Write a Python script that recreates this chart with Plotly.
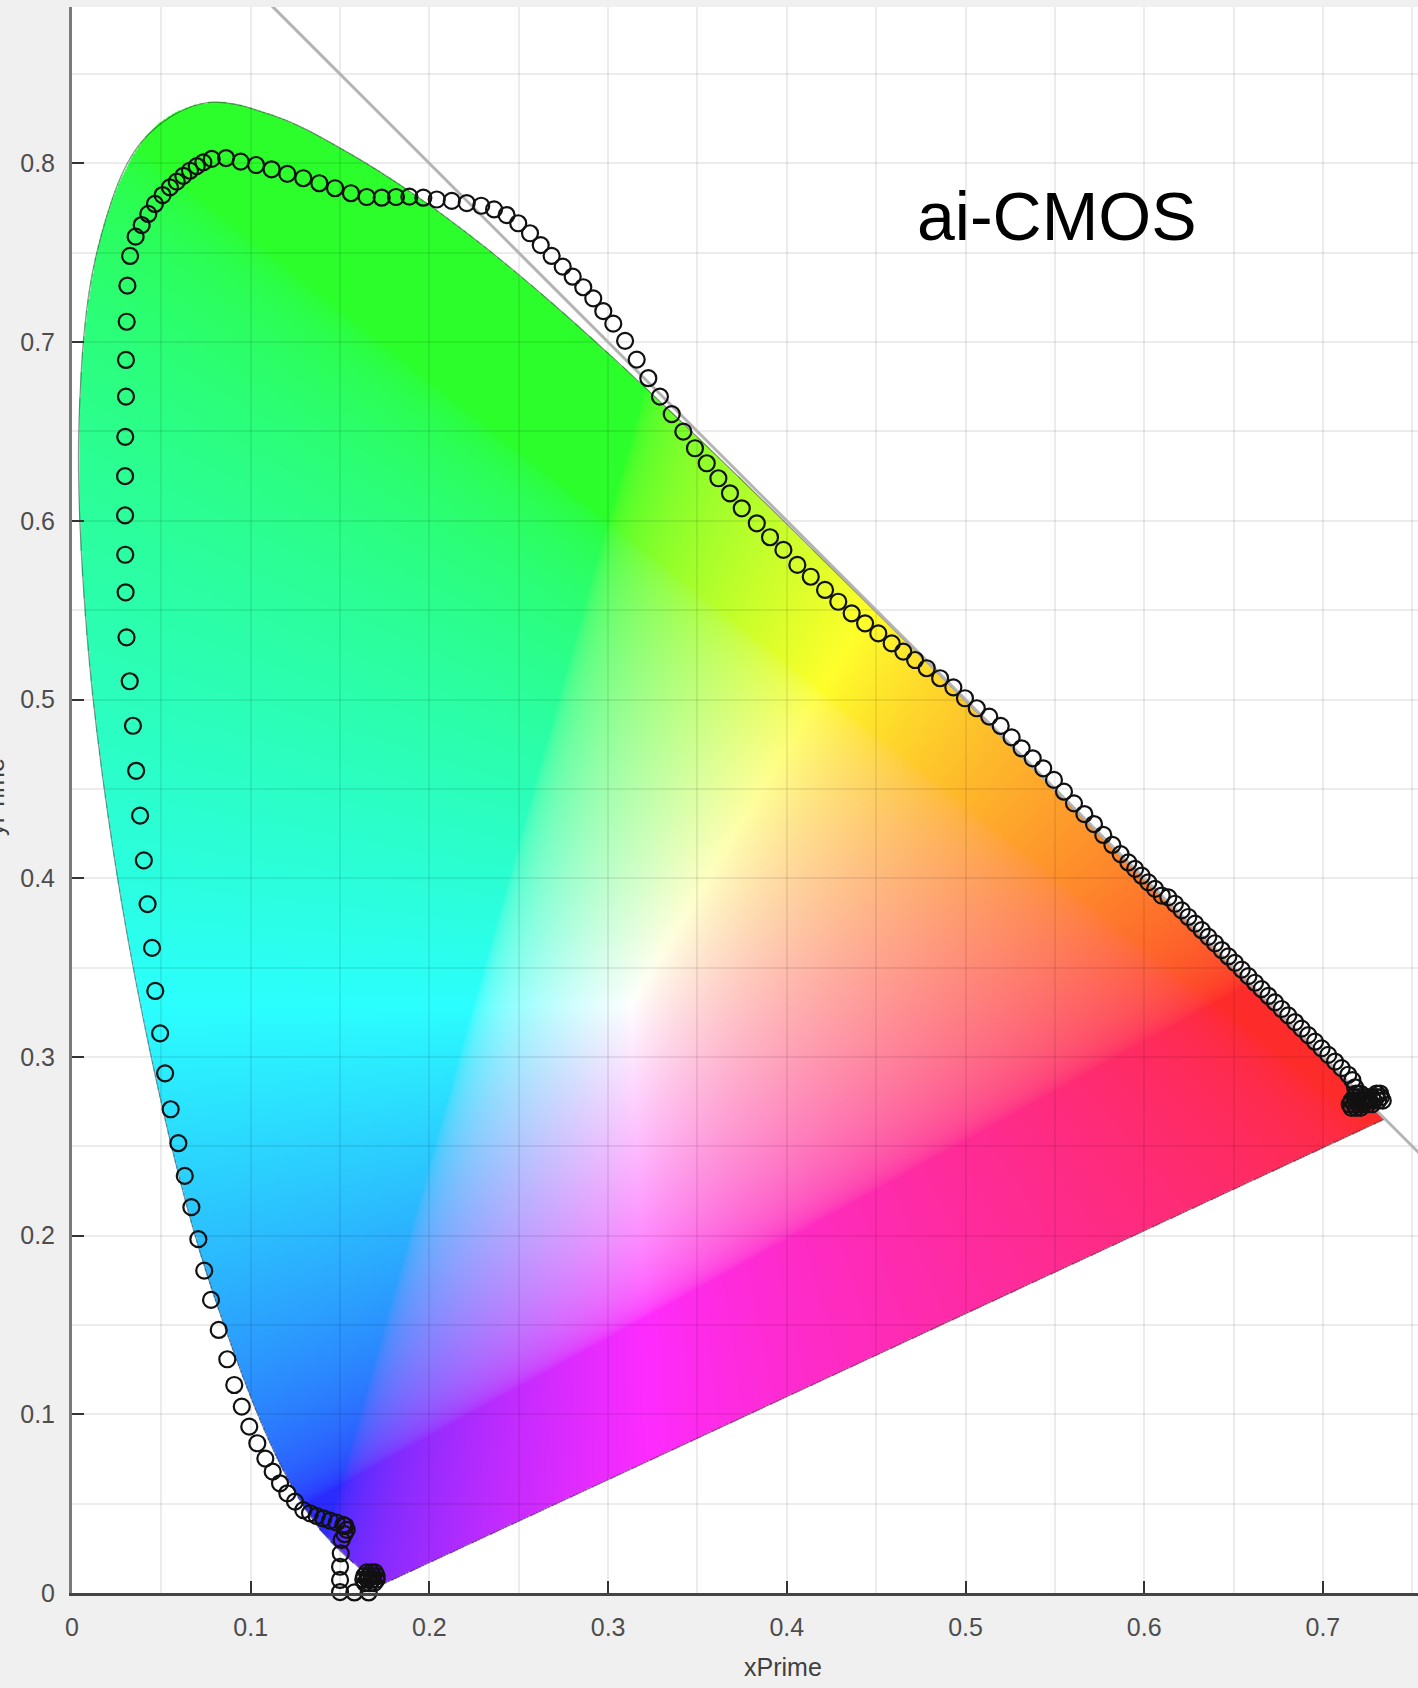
import base64
import struct
import zlib

import numpy as np
import plotly.graph_objects as go

# ---------------- data ----------------
# CIE 1931 2-degree spectral locus (chromaticity x, y), 380-700 nm
locus_nm = [380, 385, 390, 395, 400, 405, 410, 415, 420, 425, 430, 435, 440, 445, 450,
            455, 460, 465, 470, 475, 480, 485, 490, 495, 500, 505, 510, 515, 520, 525,
            530, 535, 540, 545, 550, 555, 560, 565, 570, 575, 580, 585, 590, 595, 600,
            605, 610, 615, 620, 625, 630, 635, 640, 645, 650, 660, 670, 680, 700]
locus_x = [0.1741, 0.1740, 0.1738, 0.1736, 0.1733, 0.1730, 0.1726, 0.1721, 0.1714, 0.1703,
           0.1689, 0.1669, 0.1644, 0.1611, 0.1566, 0.1510, 0.1440, 0.1355, 0.1241, 0.1096,
           0.0913, 0.0687, 0.0454, 0.0235, 0.0082, 0.0039, 0.0139, 0.0389, 0.0743, 0.1142,
           0.1547, 0.1929, 0.2296, 0.2658, 0.3016, 0.3373, 0.3731, 0.4087, 0.4441, 0.4788,
           0.5125, 0.5448, 0.5752, 0.6029, 0.6270, 0.6482, 0.6658, 0.6801, 0.6915, 0.7006,
           0.7079, 0.7140, 0.7190, 0.7230, 0.7260, 0.7300, 0.7327, 0.7334, 0.7347]
locus_y = [0.0050, 0.0050, 0.0049, 0.0049, 0.0048, 0.0048, 0.0048, 0.0048, 0.0051, 0.0058,
           0.0069, 0.0086, 0.0109, 0.0138, 0.0177, 0.0227, 0.0297, 0.0399, 0.0578, 0.0868,
           0.1327, 0.2007, 0.2950, 0.4127, 0.5384, 0.6548, 0.7502, 0.8120, 0.8338, 0.8262,
           0.8059, 0.7816, 0.7543, 0.7243, 0.6923, 0.6589, 0.6245, 0.5896, 0.5547, 0.5202,
           0.4866, 0.4544, 0.4242, 0.3965, 0.3725, 0.3514, 0.3340, 0.3197, 0.3083, 0.2993,
           0.2920, 0.2859, 0.2809, 0.2770, 0.2740, 0.2700, 0.2673, 0.2666, 0.2653]

sensor_x = [
    # blue end cluster
    0.1640, 0.1665, 0.1690,
    0.1630, 0.1655, 0.1680, 0.1705,
    0.1635, 0.1660, 0.1685, 0.1705,
    0.1650, 0.1675, 0.1695,
    0.1580, 0.1660, 0.1500,
    # column and corner
    0.1500, 0.1500, 0.1504, 0.1509, 0.1525, 0.1537, 0.1530,
    # up the left side
    0.1518, 0.1481, 0.1444, 0.1406, 0.1369, 0.1332, 0.1294, 0.1248, 0.1205, 0.1164,
    0.1123, 0.1082, 0.1037, 0.0992, 0.0950, 0.0908, 0.0869, 0.0821, 0.0778, 0.0740,
    0.0707, 0.0668, 0.0631, 0.0595, 0.0552, 0.0521, 0.0493, 0.0466, 0.0448, 0.0423,
    0.0402, 0.0381, 0.0359, 0.0341, 0.0323, 0.0305, 0.0300, 0.0298, 0.0297, 0.0297,
    0.0298, 0.0302, 0.0302, 0.0306, 0.0310, 0.0325,
    # top arc
    0.0356, 0.0390, 0.0427, 0.0464, 0.0507, 0.0548, 0.0586, 0.0623, 0.0660, 0.0698,
    0.0735, 0.0782, 0.0862, 0.0944, 0.1030, 0.1117, 0.1205, 0.1294, 0.1384, 0.1472,
    0.1561, 0.1649, 0.1733, 0.1813, 0.1888, 0.1966, 0.2041, 0.2125, 0.2209, 0.2290,
    # descending along x + y = 1
    0.2362, 0.2432, 0.2497, 0.2563, 0.2623, 0.2684, 0.2746, 0.2802, 0.2861, 0.2917,
    0.2973, 0.3029, 0.3095, 0.3160, 0.3225, 0.3290, 0.3356, 0.3421, 0.3486, 0.3552,
    0.3617, 0.3682, 0.3748, 0.3832, 0.3906, 0.3981, 0.4059, 0.4134, 0.4214, 0.4288,
    0.4363, 0.4438, 0.4512, 0.4587, 0.4652, 0.4718, 0.4783, 0.4858, 0.4932, 0.4997,
    0.5063, 0.5133, 0.5197, 0.5258, 0.5314, 0.5376, 0.5435, 0.5495, 0.5551, 0.5607,
    0.5665, 0.5719, 0.5771, 0.5822, 0.5868, 0.5911, 0.5949, 0.5986, 0.6023, 0.6061,
    0.6098, 0.6135, 0.6172, 0.6210, 0.6247, 0.6285, 0.6322, 0.6359, 0.6396, 0.6434,
    0.6471, 0.6508, 0.6546, 0.6583, 0.6620, 0.6657, 0.6695, 0.6732, 0.6769, 0.6806,
    0.6844, 0.6881, 0.6918, 0.6956, 0.6993, 0.7030, 0.7068, 0.7105, 0.7142, 0.7165,
    0.7180,
    # red end cluster
    0.7160, 0.7185, 0.7210,
    0.7150, 0.7175, 0.7200, 0.7225, 0.7250, 0.7275,
    0.7160, 0.7185, 0.7210, 0.7235, 0.7260, 0.7285, 0.7310, 0.7335,
    0.7175, 0.7200, 0.7225, 0.7250, 0.7275, 0.7300, 0.7325,
    0.7185, 0.7210, 0.7300, 0.7320,
]
sensor_y = [
    0.0055, 0.0055, 0.0055,
    0.0075, 0.0075, 0.0075, 0.0075,
    0.0095, 0.0095, 0.0095, 0.0095,
    0.0115, 0.0115, 0.0115,
    0.0003, 0.0003, 0.0005,
    0.0073, 0.0147, 0.0222, 0.0297, 0.0330, 0.0353, 0.0375,
    0.0381, 0.0394, 0.0405, 0.0418, 0.0431, 0.0446, 0.0464, 0.0511, 0.0558, 0.0614,
    0.0679, 0.0752, 0.0838, 0.0931, 0.1043, 0.1164, 0.1308, 0.1472, 0.1640, 0.1804,
    0.1980, 0.2159, 0.2334, 0.2517, 0.2707, 0.2908, 0.3132, 0.3369, 0.3610, 0.3855,
    0.4100, 0.4350, 0.4601, 0.4853, 0.5102, 0.5348, 0.5600, 0.5810, 0.6030, 0.6250,
    0.6470, 0.6695, 0.6900, 0.7114, 0.7316, 0.7482,
    0.7590, 0.7655, 0.7717, 0.7773, 0.7823, 0.7866, 0.7898, 0.7930, 0.7959, 0.7985,
    0.8006, 0.8025, 0.8030, 0.8010, 0.7991, 0.7967, 0.7941, 0.7917, 0.7889, 0.7861,
    0.7833, 0.7812, 0.7808, 0.7812, 0.7814, 0.7808, 0.7798, 0.7790, 0.7778, 0.7763,
    0.7743, 0.7711, 0.7665, 0.7609, 0.7543, 0.7482, 0.7422, 0.7366, 0.7307, 0.7245,
    0.7173, 0.7103, 0.7007, 0.6902, 0.6798, 0.6695, 0.6597, 0.6499, 0.6406, 0.6322,
    0.6238, 0.6154, 0.6070, 0.5986, 0.5908, 0.5837, 0.5753, 0.5687, 0.5613, 0.5547,
    0.5482, 0.5426, 0.5370, 0.5314, 0.5268, 0.5221, 0.5175, 0.5119, 0.5068, 0.5007,
    0.4951, 0.4904, 0.4852, 0.4788, 0.4727, 0.4671, 0.4615, 0.4550, 0.4484, 0.4419,
    0.4359, 0.4303, 0.4242, 0.4186, 0.4135, 0.4088, 0.4052, 0.4014, 0.3977, 0.3940,
    0.3903, 0.3893, 0.3857, 0.3820, 0.3783, 0.3746, 0.3709, 0.3672, 0.3636, 0.3598,
    0.3562, 0.3526, 0.3488, 0.3452, 0.3415, 0.3379, 0.3341, 0.3305, 0.3268, 0.3232,
    0.3195, 0.3158, 0.3122, 0.3085, 0.3048, 0.3011, 0.2974, 0.2937, 0.2900, 0.2870,
    0.2830,
    0.2715, 0.2715, 0.2715,
    0.2735, 0.2735, 0.2735, 0.2735, 0.2735, 0.2735,
    0.2755, 0.2755, 0.2755, 0.2755, 0.2755, 0.2755, 0.2755, 0.2755,
    0.2775, 0.2775, 0.2775, 0.2775, 0.2775, 0.2775, 0.2775,
    0.2795, 0.2795, 0.2795, 0.2795,
]

# reference line x + y = 1
ref_line_x = [0.0, 1.0]
ref_line_y = [1.0, 0.0]

x_tick_vals = [0.0, 0.1, 0.2, 0.3, 0.4, 0.5, 0.6, 0.7]
x_tick_text = ["0", "0.1", "0.2", "0.3", "0.4", "0.5", "0.6", "0.7"]
x_minor_vals = [0.05, 0.15, 0.25, 0.35, 0.45, 0.55, 0.65, 0.75]
y_tick_vals = [0.0, 0.1, 0.2, 0.3, 0.4, 0.5, 0.6, 0.7, 0.8]
y_tick_text = ["0", "0.1", "0.2", "0.3", "0.4", "0.5", "0.6", "0.7", "0.8"]
y_minor_vals = [0.05, 0.15, 0.25, 0.35, 0.45, 0.55, 0.65, 0.75, 0.85]

X_MAX = 1346 / 1787
Y_MAX = 1586 / 1787


# ---------------- chromaticity fill image ----------------
def catmull_rom(xs, ys, n=16):
    """Smooth curve through the locus points (same idea as a spline line shape)."""
    P = np.column_stack([xs, ys])
    P = np.vstack([2 * P[0] - P[1], P, 2 * P[-1] - P[-2]])
    out = []
    for i in range(1, len(P) - 2):
        p0, p1, p2, p3 = P[i - 1], P[i], P[i + 1], P[i + 2]
        for t in np.linspace(0, 1, n, endpoint=False):
            t2, t3 = t * t, t * t * t
            out.append(0.5 * (2 * p1 + (-p0 + p2) * t
                              + (2 * p0 - 5 * p1 + 4 * p2 - p3) * t2
                              + (-p0 + 3 * p1 - 3 * p2 + p3) * t3))
    out.append(P[-2])
    return np.array(out)


poly = catmull_rom(locus_x, locus_y)
px = poly[:, 0]
py = poly[:, 1]

step = 0.0008
nx = int(np.ceil(X_MAX / step))
ny = int(np.ceil(0.845 / step))
gx = (np.arange(nx) + 0.5) * step
gy = (np.arange(ny) + 0.5) * step
GX, GY = np.meshgrid(gx, gy)

inside = np.zeros(GX.shape, dtype=bool)
with np.errstate(divide="ignore", invalid="ignore"):
    j = len(px) - 1
    for i in range(len(px)):
        xi, yi, xj, yj = px[i], py[i], px[j], py[j]
        if yj != yi:
            cross = (yi > GY) != (yj > GY)
            xint = (xj - xi) * (GY - yi) / (yj - yi) + xi
            inside ^= cross & (GX < xint)
        j = i

    Xc = GX / GY
    Zc = (1.0 - GX - GY) / GY
    M = np.array([[3.2406, -1.5372, -0.4986],
                  [-0.9689, 1.8758, 0.0415],
                  [0.0557, -0.2040, 1.0570]])
    lin = np.stack([M[k, 0] * Xc + M[k, 1] + M[k, 2] * Zc for k in range(3)], axis=-1)
    lin = np.nan_to_num(lin, nan=0.0, posinf=0.0, neginf=0.0)
    lin = np.clip(lin, 0, None)
    mx = lin.max(axis=-1, keepdims=True)
    mx[mx <= 0] = 1
    lin = lin / mx
    srgb = np.where(lin <= 0.0031308, 12.92 * lin, 1.055 * np.power(lin, 1 / 2.4) - 0.055)
    srgb = 0.17 + 0.83 * srgb

rgba = np.zeros((ny, nx, 4), dtype=np.uint8)
rgba[..., :3] = np.clip(srgb * 255, 0, 255).astype(np.uint8)
rgba[..., 3] = np.where(inside, 255, 0).astype(np.uint8)
rgba = rgba[::-1]  # first PNG row = top of the image


def png_uri(arr):
    h, w, _ = arr.shape
    raw = b"".join(b"\x00" + arr[r].tobytes() for r in range(h))

    def chunk(tag, data):
        c = struct.pack(">I", len(data)) + tag + data
        return c + struct.pack(">I", zlib.crc32(tag + data) & 0xFFFFFFFF)

    png = (b"\x89PNG\r\n\x1a\n"
           + chunk(b"IHDR", struct.pack(">IIBBBBB", w, h, 8, 6, 0, 0, 0))
           + chunk(b"IDAT", zlib.compress(raw, 9))
           + chunk(b"IEND", b""))
    return "data:image/png;base64," + base64.b64encode(png).decode()


fig = go.Figure()

fig.add_layout_image(
    source=png_uri(rgba), xref="x", yref="y", x=0, y=ny * step,
    sizex=nx * step, sizey=ny * step, xanchor="left", yanchor="top",
    sizing="stretch", layer="below",
)

# locus outline (smooth) and line of purples
fig.add_trace(go.Scatter(
    x=locus_x, y=locus_y, mode="lines",
    line=dict(color="rgba(20,20,20,0.45)", width=1.2, shape="spline", smoothing=1),
    hoverinfo="skip", showlegend=False,
))
fig.add_trace(go.Scatter(
    x=[locus_x[-1], locus_x[0]], y=[locus_y[-1], locus_y[0]], mode="lines",
    line=dict(color="rgba(20,20,20,0.45)", width=1.2),
    hoverinfo="skip", showlegend=False,
))

# x + y = 1 line
fig.add_trace(go.Scatter(
    x=ref_line_x, y=ref_line_y, mode="lines",
    line=dict(color="#b3b3b3", width=3), hoverinfo="skip", showlegend=False,
))

# sensor circles
fig.add_trace(go.Scatter(
    x=sensor_x, y=sensor_y, mode="markers", cliponaxis=False,
    marker=dict(symbol="circle-open", size=16, color="#111111", line=dict(width=2.2)),
    showlegend=False,
))

grid_col = "rgba(0,0,0,0.075)"
tick_font = dict(family="Liberation Sans, Arial, sans-serif", size=25, color="#4d4d4d")

fig.update_layout(
    width=1418, height=1688,
    margin=dict(l=72, r=0, t=7, b=95),
    paper_bgcolor="#f0f0f0", plot_bgcolor="white",
    xaxis=dict(
        range=[0, X_MAX], tickvals=x_tick_vals, ticktext=x_tick_text,
        ticks="inside", ticklen=12, tickwidth=2, tickcolor="#333333",
        showline=True, linecolor="#444444", linewidth=3,
        showgrid=True, gridcolor=grid_col, gridwidth=2, zeroline=False,
        minor=dict(tickmode="array", tickvals=x_minor_vals, showgrid=True,
                   gridcolor=grid_col, gridwidth=2, ticks=""),
        tickfont=tick_font, ticklabelstandoff=10,
    ),
    yaxis=dict(
        range=[0, Y_MAX], tickvals=y_tick_vals, ticktext=y_tick_text,
        ticks="inside", ticklen=12, tickwidth=2, tickcolor="#333333",
        showline=True, linecolor="#7a7a7a", linewidth=3,
        showgrid=True, gridcolor=grid_col, gridwidth=2, zeroline=False,
        minor=dict(tickmode="array", tickvals=y_minor_vals, showgrid=True,
                   gridcolor=grid_col, gridwidth=2, ticks=""),
        tickfont=tick_font, ticklabelstandoff=9,
    ),
    annotations=[
        dict(text="ai-CMOS", x=0.551, y=0.7705, xref="x", yref="y", showarrow=False,
             xanchor="center", yanchor="middle",
             font=dict(family="Liberation Sans, Arial, sans-serif", size=68, color="black")),
        dict(text="xPrime", x=(783 - 72) / 1346, y=-(1667 - 1593) / 1586, xref="paper", yref="paper",
             showarrow=False, xanchor="center", yanchor="middle",
             font=dict(family="Liberation Sans, Arial, sans-serif", size=25, color="#404040")),
        dict(text="yPrime", x=(-5 - 72) / 1346, y=(1593 - 797) / 1586, xref="paper", yref="paper",
             showarrow=False, xanchor="center", yanchor="middle", textangle=-90,
             font=dict(family="Liberation Sans, Arial, sans-serif", size=25, color="#404040")),
    ],
)

fig.write_html(
    "out.html",
    config={"displayModeBar": False},
    post_script="document.body.style.margin='0';document.body.style.padding='0';"
                "document.documentElement.style.overflow='hidden';",
)
